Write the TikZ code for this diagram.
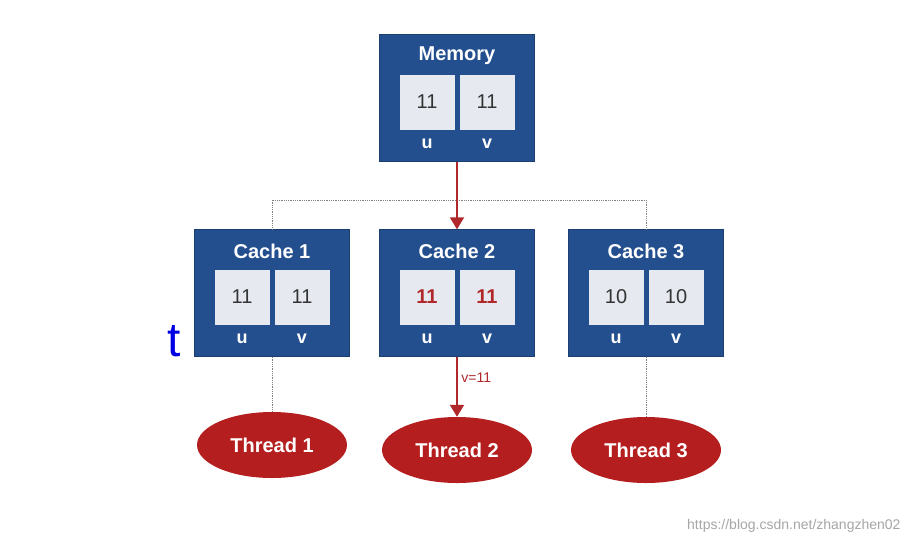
\documentclass[tikz,border=0pt]{standalone}
\usepackage{fontspec}
\setmainfont{Liberation Sans}
\usetikzlibrary{shapes.geometric,arrows.meta}
\definecolor{boxblue}{HTML}{234F8E}
\definecolor{cellgray}{HTML}{E6EAF0}
\definecolor{thr}{HTML}{B51E1E}
\definecolor{arr}{HTML}{B0282A}
\begin{document}
\begin{tikzpicture}[x=1pt,y=-1pt,
  blk/.style={draw=boxblue!80!black,fill=boxblue,minimum width=155pt,minimum height=127pt,inner sep=0},
  cell/.style={fill=cellgray,minimum width=55pt,minimum height=55pt,inner sep=0,font=\fontsize{20}{22}\selectfont},
  ttl/.style={text=white,font=\bfseries\fontsize{20}{22}\selectfont},
  lab/.style={text=white,font=\bfseries\fontsize{18}{20}\selectfont},
  thread/.style={ellipse,fill=thr,minimum width=150pt,minimum height=66pt,text=white,font=\bfseries\fontsize{20}{22}\selectfont},
  dotl/.style={densely dotted,gray,line width=0.8pt},
  redarr/.style={arr,line width=2pt,-{Triangle[length=12pt,width=14pt]}}]
\useasboundingbox (0,0) rectangle (912,544);
\fill[white] (0,0) rectangle (912,544);
\newcommand{\myblock}[7]{%
  \node[blk] (#1) at (#2,#3) {};
  \node[ttl] (#1t) at (#2,#3-42) {#4};
  \node[cell,text=#7] (#1u) at (#2-30,#3+4) {#5};
  \node[cell,text=#7] (#1v) at (#2+30,#3+4) {#6};
  \node[lab] (#1lu) at (#2-30,#3+46) {u};
  \node[lab] (#1lv) at (#2+30,#3+46) {v};}
\myblock{mem}{457}{98}{Memory}{11}{11}{black!80}
\myblock{c1}{272}{293}{Cache 1}{11}{11}{black!80}
\myblock{c2}{457}{293}{Cache 2}{\textbf{11}}{\textbf{11}}{arr}
\myblock{c3}{646}{293}{Cache 3}{10}{10}{black!80}
\node[thread] (t1) at (272,445) {Thread 1};
\node[thread] (t2) at (457,450) {Thread 2};
\node[thread] (t3) at (646,450) {Thread 3};
\coordinate (h1) at (272,200);
\coordinate (h3) at (646,200);
\draw[dotl] (c1.north) -- (h1) -- (h3) -- (c3.north);
\draw[dotl] (c1.south) -- (t1.north);
\draw[dotl] (c3.south) -- (t3.north);
\draw[redarr] (mem.south) -- (c2.north);
\draw[redarr] (c2.south) -- node[right,text=arr,font=\fontsize{14}{16}\selectfont,pos=0.35] {v=11} (t2.north);
\node[text=blue!90!black,font=\fontsize{48}{50}\selectfont,anchor=base] (tt) at (174,356) {t};
\node[text=gray!70,font=\fontsize{14}{16}\selectfont,anchor=east] (wm) at (904,526) {https://blog.csdn.net/zhangzhen02};
\end{tikzpicture}
\end{document}
